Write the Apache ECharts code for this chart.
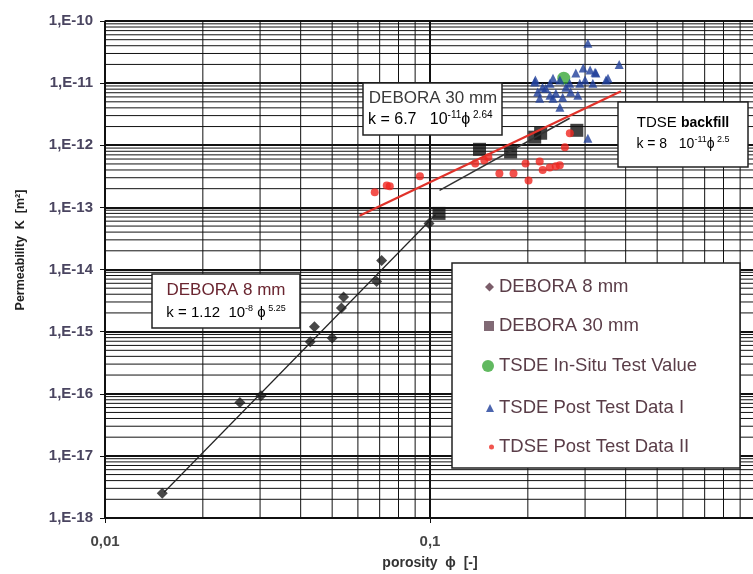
<!DOCTYPE html>
<html>
<head>
<meta charset="utf-8">
<script src="https://cdn.jsdelivr.net/npm/echarts@6/dist/echarts.min.js"></script>
<style>
  html, body { margin: 0; padding: 0; background: #fff; }
  #main { width: 753px; height: 574px; }
</style>
</head>
<body>
<div id="main"></div>
<script>
// values (porosity phi, permeability K in m2)
const deb8Phi = [0.0150, 0.0260, 0.0302, 0.0428, 0.0441, 0.0500, 0.0534, 0.0542, 0.0685, 0.0710, 0.0993];
const deb8K = [2.5e-18, 7.2e-17, 9.3e-17, 6.9e-16, 1.2e-15, 7.9e-16, 2.4e-15, 3.6e-15, 6.4e-15, 1.4e-14, 5.5e-14];

const deb30Phi = [0.1066, 0.142, 0.177, 0.210, 0.219, 0.283];
const deb30K = [8.0e-14, 8.6e-13, 7.8e-13, 1.35e-12, 1.56e-12, 1.74e-12];

const insituPhi = [0.258];
const insituK = [1.2e-11];

const post1Phi = [0.306, 0.382, 0.296, 0.311, 0.322, 0.353, 0.324, 0.281, 0.210, 0.2145, 0.2175,
  0.234, 0.239, 0.227, 0.244, 0.251, 0.262, 0.271, 0.289, 0.285, 0.300, 0.256, 0.222, 0.306,
  0.234, 0.269, 0.251, 0.239, 0.317, 0.211, 0.348];
const post1K = [4.4e-11, 2.0e-11, 1.75e-11, 1.62e-11, 1.5e-11, 1.2e-11, 1.45e-11, 1.45e-11, 1.04e-11, 7.2e-12, 5.7e-12,
  1.0e-11, 1.2e-11, 8.3e-12, 6.9e-12, 4.1e-12, 8.6e-12, 7.2e-12, 1.0e-11, 6.4e-12, 1.12e-11, 5.9e-12, 8.6e-12, 1.3e-12,
  6.4e-12, 1.0e-11, 1.12e-11, 5.7e-12, 1.0e-11, 1.12e-11, 1.12e-11];

const post2Phi = [0.0676, 0.0736, 0.0752, 0.0931, 0.1378, 0.147, 0.1512, 0.1635, 0.1807, 0.1968,
  0.201, 0.2175, 0.2222, 0.2336, 0.2508, 0.260, 0.2693, 0.2438];
const post2K = [1.75e-13, 2.26e-13, 2.18e-13, 3.16e-13, 5.1e-13, 5.7e-13, 6.4e-13, 3.5e-13, 3.5e-13, 5.1e-13,
  2.7e-13, 5.5e-13, 4.0e-13, 4.4e-13, 4.75e-13, 9.3e-13, 1.56e-12, 4.6e-13];

// fitted lines, end points
const fit8Phi = [0.0152, 0.104];
const fit8K = [2.6e-18, 7.6e-14];
const fit30Phi = [0.107, 0.269];
const fit30K = [1.88e-13, 2.72e-12];
const fitTdsePhi = [0.0607, 0.387];
const fitTdseK = [7.3e-14, 7.4e-12];

// log grid helpers
const minorDigits = [2, 3, 4, 5, 6, 7, 8, 9];
const yDecades = [-18, -17, -16, -15, -14, -13, -12, -11];
const xDecades = [-2, -1];

const names = ['DEBORA 8 mm', 'DEBORA 30 mm', 'TSDE In-Situ Test Value', 'TSDE Post Test Data I', 'TDSE Post Test Data II'];

const zip = (a, b) => a.map((v, i) => [v, b[i]]);

// [x, y, isVertical]
const minorLines = [];
yDecades.forEach(e => minorDigits.forEach(d => minorLines.push([0.01, d * Math.pow(10, e), 0])));
xDecades.forEach(e => minorDigits.forEach(d => minorLines.push([d * Math.pow(10, e), 1e-18, 1])));

const font = 'Arial, "Liberation Sans", sans-serif';
const chart = echarts.init(document.getElementById('main'));

const legendTops = [287, 326, 366, 408, 447];
const legendIcons = ['diamond', 'rect', 'circle', 'triangle', 'circle'];
const legendSizes = [9, 10, 12, 8, 5];
const legendColors = ['#5a3545', '#624552', '#3aa838', '#1f3f9a', '#ee2a22'];

const legends = names.map((n, i) => ({
    show: true,
    data: [{name: n, icon: legendIcons[i], itemStyle: {color: legendColors[i]}}],
    orient: 'vertical',
    left: 499 - 5 - legendSizes[i],
    top: legendTops[i] - 11,
    padding: 0,
    itemWidth: legendSizes[i],
    itemHeight: legendSizes[i],
    selectedMode: false,
    z: 200,
    textStyle: {fontFamily: font, fontSize: 18.5, color: '#5a3d48', lineHeight: 22}
}));

const boxStyle = {fill: '#fff', stroke: '#222', lineWidth: 1.5};

chart.setOption({
    animation: false,
    backgroundColor: '#fff',
    grid: {left: 105, right: -2, top: 21, bottom: 56, outerBoundsMode: 'none', containLabel: false},
    legend: legends,
    xAxis: {
        type: 'log',
        logBase: 10,
        min: 0.01,
        max: 1,
        splitNumber: 2,
        name: 'porosity  ϕ  [-]',
        nameLocation: 'middle',
        nameGap: 38,
        nameTextStyle: {fontFamily: font, fontWeight: 'bold', fontSize: 14, color: '#333'},
        axisLine: {lineStyle: {color: '#111', width: 1.5}},
        axisTick: {show: true, length: 5, lineStyle: {color: '#111'}},
        axisLabel: {
            fontFamily: font, fontWeight: 'bold', fontSize: 15, color: '#454545', margin: 16,
            showMaxLabel: false,
            formatter: v => String(v).replace('.', ',')
        },
        splitLine: {show: true, lineStyle: {color: '#111', width: 2}}
    },
    yAxis: {
        type: 'log',
        logBase: 10,
        min: 1e-18,
        max: 1e-10,
        splitNumber: 8,
        axisLine: {lineStyle: {color: '#111', width: 1.5}},
        axisTick: {show: true, length: 5, lineStyle: {color: '#111'}},
        axisLabel: {
            fontFamily: font, fontWeight: 'bold', fontSize: 15, color: '#4a4560', margin: 12,
            formatter: v => '1,E' + Math.round(Math.log10(v))
        },
        splitLine: {show: true, lineStyle: {color: '#111', width: 2}}
    },
    graphic: [
        {type: 'rect', z: 100, shape: {x: 363, y: 83, width: 139, height: 52}, style: boxStyle},
        {type: 'rect', z: 100, shape: {x: 618, y: 102, width: 130, height: 65}, style: boxStyle},
        {type: 'rect', z: 100, shape: {x: 152, y: 274, width: 148, height: 54}, style: boxStyle},
        {type: 'rect', z: 100, shape: {x: 452, y: 263, width: 288, height: 205}, style: boxStyle},
        {
            type: 'text', z: 101, x: 433, y: 98,
            style: {text: 'DEBORA 30 mm', font: '17px ' + font, fill: '#3a3a3a', align: 'center', verticalAlign: 'middle'}
        },
        {
            type: 'text', z: 101, x: 368, y: 120,
            style: {
                text: '{t|k = 6.7   10}{s|-11}{t|ϕ}{s| 2.64}',
                verticalAlign: 'middle',
                rich: {
                    t: {fontFamily: font, fontSize: 16, color: '#3a3a3a', lineHeight: 20},
                    s: {fontFamily: font, fontSize: 10, color: '#3a3a3a', verticalAlign: 'top', lineHeight: 12}
                }
            }
        },
        {
            type: 'text', z: 101, x: 683, y: 123,
            style: {
                text: '{a|TDSE }{b|backfill}',
                align: 'center', verticalAlign: 'middle',
                rich: {
                    a: {fontFamily: font, fontSize: 15, color: '#7a3a42'},
                    b: {fontFamily: font, fontSize: 14, fontWeight: 'bold', color: '#111'}
                }
            }
        },
        {
            type: 'text', z: 101, x: 683, y: 144,
            style: {
                text: '{t|k = 8   10}{r|-11}{t|ϕ}{s| 2.5}',
                align: 'center', verticalAlign: 'middle',
                rich: {
                    t: {fontFamily: font, fontSize: 14, color: '#3a3a55', lineHeight: 18},
                    r: {fontFamily: font, fontSize: 9, color: '#a03030', verticalAlign: 'top', lineHeight: 11},
                    s: {fontFamily: font, fontSize: 9, color: '#3a3a55', verticalAlign: 'top', lineHeight: 11}
                }
            }
        },
        {
            type: 'text', z: 101, x: 226, y: 290,
            style: {text: 'DEBORA 8 mm', font: '17px ' + font, fill: '#6a2530', align: 'center', verticalAlign: 'middle'}
        },
        {
            type: 'text', z: 101, x: 226, y: 313,
            style: {
                text: '{k|k}{a| = 1.12 }{b| 10}{s|-8}{b| ϕ}{s| 5.25}',
                align: 'center', verticalAlign: 'middle',
                rich: {
                    k: {fontFamily: font, fontSize: 15, color: '#2a4aa0', lineHeight: 18},
                    a: {fontFamily: font, fontSize: 15, color: '#6a2530', lineHeight: 18},
                    b: {fontFamily: font, fontSize: 15, color: '#6a5a40', lineHeight: 18},
                    s: {fontFamily: font, fontSize: 9, color: '#6a5a40', verticalAlign: 'top', lineHeight: 11}
                }
            }
        },
        {
            type: 'text', x: 21, y: 250, rotation: Math.PI / 2,
            style: {text: 'Permeability  K  [m²]', font: 'bold 12.5px ' + font, fill: '#222', align: 'center', verticalAlign: 'middle'}
        }
    ],
    series: [
        {
            // minor log grid lines
            type: 'custom',
            silent: true,
            data: minorLines,
            encode: {x: 0, y: 1},
            renderItem: (params, api) => {
                const vertical = api.value(2) === 1;
                const a = vertical ? api.coord([api.value(0), 1e-18]) : api.coord([0.01, api.value(1)]);
                const b = vertical ? api.coord([api.value(0), 1e-10]) : api.coord([1, api.value(1)]);
                return {
                    type: 'line',
                    shape: {x1: a[0], y1: a[1], x2: b[0], y2: b[1]},
                    style: {stroke: '#111', lineWidth: 1}
                };
            }
        },
        {type: 'line', name: 'fit8', data: zip(fit8Phi, fit8K), showSymbol: false, lineStyle: {color: '#222', width: 1.2}},
        {type: 'line', name: 'fit30', data: zip(fit30Phi, fit30K), showSymbol: false, lineStyle: {color: '#333', width: 1.5}},
        {type: 'line', name: 'fitTdse', data: zip(fitTdsePhi, fitTdseK), showSymbol: false, lineStyle: {color: '#e0322a', width: 2.2}},
        {name: names[0], type: 'scatter', symbol: 'diamond', symbolSize: 11, itemStyle: {color: '#1a1a1a'}, data: zip(deb8Phi, deb8K)},
        {name: names[1], type: 'scatter', symbol: 'rect', symbolSize: 13, itemStyle: {color: '#111'}, data: zip(deb30Phi, deb30K)},
        {name: names[2], type: 'scatter', symbol: 'circle', symbolSize: 13, itemStyle: {color: '#3aa838'}, data: zip(insituPhi, insituK)},
        {name: names[3], type: 'scatter', symbol: 'triangle', symbolSize: 9, itemStyle: {color: '#1f3f9a'}, data: zip(post1Phi, post1K)},
        {name: names[4], type: 'scatter', symbol: 'circle', symbolSize: 8, itemStyle: {color: '#f0261f'}, data: zip(post2Phi, post2K)}
    ]
});
</script>
</body>
</html>
